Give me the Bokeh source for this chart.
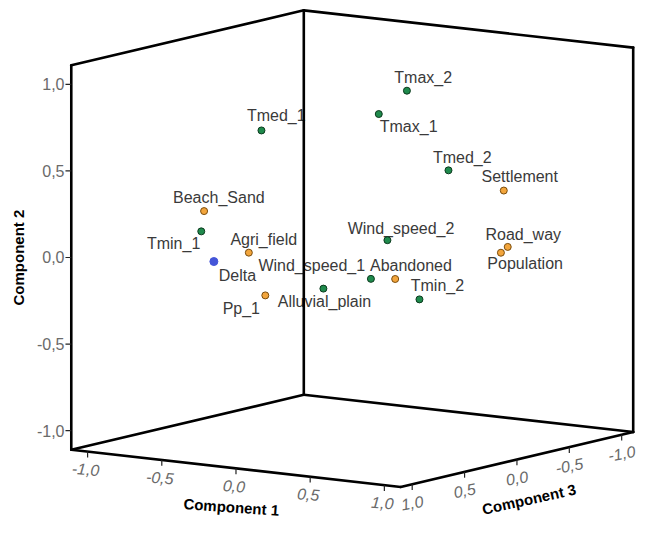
import numpy as np
from bokeh.plotting import figure
from bokeh.models import Range1d, ColumnDataSource
from bokeh.core.properties import value
from bokeh.embed import file_html
from bokeh.resources import INLINE

# ---------------- data (component loadings) ----------------
variables = ["Tmax_2", "Tmax_1", "Tmed_1", "Tmed_2", "Settlement", "Beach_Sand",
             "Tmin_1", "Wind_speed_2", "Road_way", "Population", "Agri_field",
             "Delta", "Wind_speed_1", "Abandoned", "Alluvial_plain", "Pp_1", "Tmin_2"]
component1 = [0.439, 0.320, -0.259, 0.578, 0.739, -0.575, -0.594, 0.237, 0.695,
              0.649, -0.344, -0.509, 0.267, 0.360, 0.088, -0.233, 0.453]
component2 = [0.969, 0.837, 0.729, 0.494, 0.350, 0.247, 0.128, 0.072, 0.006,
              -0.032, 0.015, -0.038, -0.120, -0.126, -0.165, -0.221, -0.249]
component3 = [0.1, 0.2, 0.5, -0.1, -0.4, 0.6, 0.6, 0.0, -0.5, -0.5, 0.5, 0.6,
              0.2, 0.1, 0.4, 0.5, 0.0]
group = ["g1", "g1", "g1", "g1", "g2", "g2", "g1", "g1", "g2", "g2", "g2",
         "g3", "g1", "g2", "g1", "g2", "g1"]

tick_values = [-1.0, -0.5, 0.0, 0.5, 1.0]
tick_labels = ["-1,0", "-0,5", "0,0", "0,5", "1,0"]

# ---------------- layout / style ----------------
# label offsets relative to the marker (screen units, +y is down)
label_dx = [-13, 1, -15, -16, -23, -32, -56, -41, -23, -14, -19, 5, -116, -26, -47, -44, -9]
label_dy = [-14, 13, -15, -13, -14, -14, 12, -12, -13, 11, -14, 14, -14, -14, 13, 13, -14]

fill_colors = {"g1": "#1f8a4c", "g2": "#f2a53c", "g3": "#4455d8"}
line_colors = {"g1": "#0c3a1e", "g2": "#7a4c0c", "g3": "#4455d8"}
sizes = {"g1": 7, "g2": 7, "g3": 8}

# oblique projection of the 3D box onto the screen plane
X0, KX1, KX3 = 362.7, 153.0, 108.0
Y0, KY1, KY3, KZ = 255.8, 17.3, 25.5, 178.5
LIM = 1.11


def proj(c1, c2, c3):
    c1 = np.asarray(c1, float)
    c2 = np.asarray(c2, float)
    c3 = np.asarray(c3, float)
    return X0 + KX1 * c1 - KX3 * c3, Y0 + KY1 * c1 + KY3 * c3 - KZ * c2


FONT = value("Liberation Sans")

p = figure(width=642, height=520, x_range=Range1d(0, 662), y_range=Range1d(536, 0),
           output_backend="svg", toolbar_location=None, x_axis_type=None,
           y_axis_type=None, min_border=0)
p.grid.visible = False
p.outline_line_color = None
p.background_fill_color = "white"

# ---------------- point labels ----------------
px, py = proj(component1, component2, component3)
lab_src = ColumnDataSource(dict(x=px + np.array(label_dx), y=py + np.array(label_dy),
                                text=variables))
p.text(x="x", y="y", text="text", source=lab_src, text_font=FONT,
       text_font_size="16px", text_color="#3a3a3a", text_align="left",
       text_baseline="middle")

# ---------------- box ----------------
L = LIM
corners = {
    "A": (-L, -L, L), "B": (L, -L, L), "C": (L, -L, -L), "D": (-L, -L, -L),
    "A'": (-L, L, L), "C'": (L, L, -L), "D'": (-L, L, -L),
}
edges = [("A'", "A"), ("A", "B"), ("B", "C"), ("C", "C'"), ("C'", "D'"),
         ("D'", "A'"), ("D'", "D"), ("D", "A"), ("D", "C")]
xs, ys = [], []
for a, b in edges:
    xa, ya = proj(*corners[a])
    xb, yb = proj(*corners[b])
    xs.append([float(xa), float(xb)])
    ys.append([float(ya), float(yb)])
p.multi_line(xs, ys, line_color="black", line_width=2.6, line_cap="round",
             line_join="round")

# ---------------- ticks ----------------
tv = np.array(tick_values)
# component 2 (vertical, left front edge)
y2x, y2y = proj(np.full(5, -L), tv, np.full(5, L))
p.segment(x0=y2x, y0=y2y, x1=y2x - 6, y1=y2y, line_color="#222222", line_width=1.2)
p.text(x=y2x - 7, y=y2y, text=tick_labels, text_font=FONT, text_font_size="16px",
       text_color="#6a6a6a", text_align="right", text_baseline="middle")
# component 1 (front-left floor edge)
x1x, x1y = proj(tv, np.full(5, -L), np.full(5, L))
p.segment(x0=x1x, y0=x1y, x1=x1x, y1=x1y + 6, line_color="#222222", line_width=1.2)
p.text(x=x1x - 2, y=x1y + 18, text=tick_labels, text_font=FONT, text_font_size="16px",
       text_font_style="italic", text_color="#6a6a6a", text_align="center",
       text_baseline="middle", angle=-0.08)
# component 3 (front-right floor edge)
x3x, x3y = proj(np.full(5, L), np.full(5, -L), tv)
p.segment(x0=x3x, y0=x3y, x1=x3x, y1=x3y + 6, line_color="#222222", line_width=1.2)
p.text(x=x3x, y=x3y + 19, text=tick_labels, text_font=FONT, text_font_size="16px",
       text_font_style="italic", text_color="#6a6a6a", text_align="center",
       text_baseline="middle", angle=0.18)

# ---------------- axis titles ----------------
p.text(x=[18.5], y=[265], text=["Component 2"], text_font=FONT, text_font_size="15px",
       text_font_style="bold", text_color="black", text_align="center",
       text_baseline="middle", angle=np.pi / 2)
p.text(x=[238], y=[522], text=["Component 1"], text_font=FONT, text_font_size="15px",
       text_font_style="bold", text_color="black", text_align="center",
       text_baseline="middle", angle=-0.07)
p.text(x=[545], y=[514], text=["Component 3"], text_font=FONT, text_font_size="15px",
       text_font_style="bold", text_color="black", text_align="center",
       text_baseline="middle", angle=0.22)

# ---------------- markers ----------------
pt_src = ColumnDataSource(dict(x=px, y=py,
                               fill=[fill_colors[g] for g in group],
                               line=[line_colors[g] for g in group],
                               size=[sizes[g] for g in group]))
p.scatter(x="x", y="y", source=pt_src, size="size", fill_color="fill",
          line_color="line", line_width=1.0)

open("out.html", "w").write(file_html(p, INLINE))
